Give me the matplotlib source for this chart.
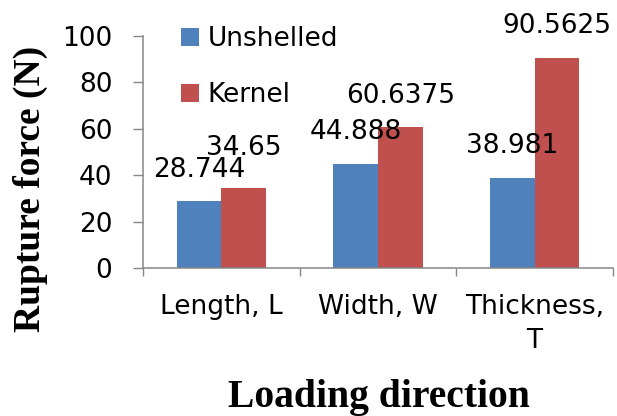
import matplotlib
matplotlib.use('Agg')
import matplotlib.pyplot as plt
import numpy as np
from matplotlib.patches import Patch

# ---- data ----
categories = ['Length, L', 'Width, W', 'Thickness,\nT']
unshelled = [28.744, 44.888, 38.981]
kernel = [34.65, 60.6375, 90.5625]
unshelled_txt = ['28.744', '44.888', '38.981']
kernel_txt = ['34.65', '60.6375', '90.5625']

BLUE = '#4F81BD'
RED = '#C0504D'
AXC = '#868686'
W, H = 617, 416

plt.rcParams['font.family'] = 'DejaVu Sans'
fig = plt.figure(figsize=(W / 100, H / 100), dpi=100, facecolor='white')

# axes placed by pixel edges: x 143..613, y 36..268
ax = fig.add_axes([143 / W, 1 - 268 / H, 470 / W, 232 / H])
x = np.arange(len(categories))
bw = 0.285
ax.bar(x - bw / 2, unshelled, bw, color=BLUE, label='Unshelled')
ax.bar(x + bw / 2, kernel, bw, color=RED, label='Kernel')

# data labels (Excel-like, slightly above bar ends)
fs = 19
for i in range(len(categories)):
    ax.text(x[i] - bw / 2, unshelled[i] + 8, unshelled_txt[i],
            ha='center', va='bottom', fontsize=fs, color='black')
    ax.text(x[i] + bw / 2, kernel[i] + (11.5 if i == 0 else 8), kernel_txt[i],
            ha='center', va='bottom', fontsize=fs, color='black')

ax.set_xlim(-0.5, len(categories) - 0.5)
ax.set_ylim(0, 100)
ax.set_yticks([0, 20, 40, 60, 80, 100])
ax.set_xticks(x)
ax.set_xticklabels(categories, fontsize=fs, linespacing=1.4)
ax.set_xticks(np.arange(-0.5, len(categories), 1), minor=True)
ax.tick_params(axis='x', which='major', length=0, pad=19)
ax.tick_params(axis='x', which='minor', length=6, width=1, color=AXC, direction='out')
ax.tick_params(axis='y', length=7, width=1, color=AXC, pad=15, labelsize=fs)

for s in ['top', 'right']:
    ax.spines[s].set_visible(False)
for s in ['left', 'bottom']:
    ax.spines[s].set_color(AXC)
    ax.spines[s].set_linewidth(1.1)

# legend
handles = [Patch(facecolor=BLUE, edgecolor='none', label='Unshelled'),
           Patch(facecolor=RED, edgecolor='none', label='Kernel')]
fig.legend(handles=handles, loc='upper left',
           bbox_to_anchor=(181 / W, 1 - 26 / H), frameon=False,
           fontsize=fs, handlelength=0.7, handleheight=0.7,
           handletextpad=0.3, labelspacing=1.15, borderpad=0, borderaxespad=0)

# axis titles
fig.text(379 / W, 1 - 398 / H, 'Loading direction', ha='center', va='center',
         fontsize=28.5, fontweight='bold', family='Liberation Serif')
fig.text(30 / W, 1 - 189 / H, 'Rupture force (N)', ha='center', va='center',
         rotation=90, fontsize=27, fontweight='bold', family='Liberation Serif')

fig.savefig('out.png', dpi=100, facecolor='white')
